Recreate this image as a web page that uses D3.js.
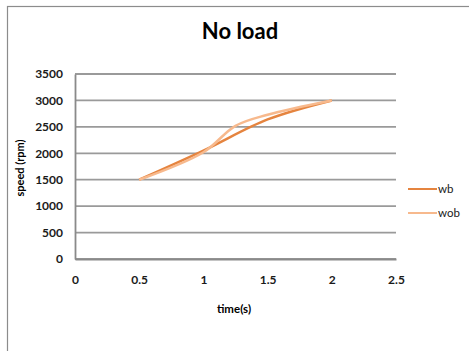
<!DOCTYPE html>
<html>
<head>
<meta charset="utf-8">
<script src="https://cdn.jsdelivr.net/npm/d3@7"></script>
<style>
  body { margin: 0; background: #fff; }
  svg { display: block; font-family: Lato, "Open Sans", sans-serif; }
</style>
</head>
<body>
<svg id="chart"></svg>
<script>
// data
const title = 'No load';
const xTicks = [0, 0.5, 1, 1.5, 2, 2.5];
const yTicks = [0, 500, 1000, 1500, 2000, 2500, 3000, 3500];
const wbTime = [0.5, 1, 1.5, 2];
const wbSpeed = [1500, 2050, 2640, 3000];
const wobTime = [0.5, 1, 1.25, 1.5, 2];
const wobSpeed = [1500, 2020, 2520, 2730, 3000];

const width = 469, height = 351;
const margin = {top: 74, right: 73, bottom: 92, left: 75};

const svg = d3.select('#chart')
    .attr('width', width)
    .attr('height', height);

// chart area frame
svg.append('rect')
    .attr('x', 7.5).attr('y', 6.5)
    .attr('width', width).attr('height', height)
    .attr('fill', 'none')
    .attr('stroke', '#8c8c8c')
    .attr('stroke-width', 1.2);

const inner_width = width - margin.left - margin.right;
const inner_height = height - margin.top - margin.bottom;

const chart = svg.append('g')
    .attr('transform', `translate(${margin.left}, ${margin.top})`);

const xscale = d3.scaleLinear().domain([0, 2.5]).range([0, inner_width]);
const yscale = d3.scaleLinear().domain([0, 3500]).range([inner_height, 0]);

// gridlines
chart.append('g')
    .selectAll('line')
    .data(yTicks)
    .join('line')
    .attr('x1', 0).attr('x2', inner_width)
    .attr('y1', d => yscale(d)).attr('y2', d => yscale(d))
    .attr('stroke', '#9a9a9a')
    .attr('stroke-width', 1.8);

const yaxis = d3.axisLeft(yscale).tickValues(yTicks).tickSize(0).tickPadding(12)
    .tickFormat(d3.format('d'));
const xaxis = d3.axisBottom(xscale).tickValues(xTicks).tickSize(0).tickPadding(16)
    .tickFormat(d3.format('~g'));

const yg = chart.append('g').call(yaxis);
const xg = chart.append('g').attr('transform', `translate(0, ${inner_height})`).call(xaxis);

[yg, xg].forEach(g => {
    g.select('.domain').attr('stroke', '#8a8a8a').attr('stroke-width', 1.8);
    g.selectAll('text')
        .attr('fill', '#1a1a1a')
        .style('font-family', 'Lato, sans-serif')
        .style('font-size', '12px')
        .style('font-weight', 'bold');
});

const line = d3.line()
    .x(d => xscale(d[0]))
    .y(d => yscale(d[1]))
    .curve(d3.curveCatmullRom.alpha(0.5));

const series = [
    {name: 'wb', pts: d3.zip(wbTime, wbSpeed), color: '#e5843f'},
    {name: 'wob', pts: d3.zip(wobTime, wobSpeed), color: '#f7b98d'}
];

chart.selectAll('.series')
    .data(series)
    .join('path')
    .attr('class', 'series')
    .attr('d', d => line(d.pts))
    .attr('fill', 'none')
    .attr('stroke', d => d.color)
    .attr('stroke-width', 2.5);

// title
svg.append('text')
    .attr('x', 240).attr('y', 39)
    .attr('text-anchor', 'middle')
    .style('font-size', '22px')
    .style('font-weight', 'bold')
    .text(title);

// axis labels
svg.append('text')
    .attr('x', 234).attr('y', 313)
    .attr('text-anchor', 'middle')
    .style('font-size', '11.5px')
    .style('font-weight', 'bold')
    .text('time(s)');

svg.append('text')
    .attr('transform', 'rotate(-90)')
    .attr('x', -168).attr('y', 24)
    .attr('text-anchor', 'middle')
    .style('font-size', '11px')
    .style('font-weight', 'bold')
    .text('speed (rpm)');

// legend
const legend = svg.append('g')
    .selectAll('g')
    .data(series)
    .join('g')
    .attr('transform', (d, i) => `translate(408, ${189 + i * 24})`);

legend.append('line')
    .attr('x1', 0).attr('x2', 29)
    .attr('stroke', d => d.color)
    .attr('stroke-width', 2);

legend.append('text')
    .attr('x', 30).attr('y', 4)
    .style('font-size', '11.5px')
    .style('fill', '#1a1a1a')
    .text(d => d.name);
</script>
</body>
</html>
